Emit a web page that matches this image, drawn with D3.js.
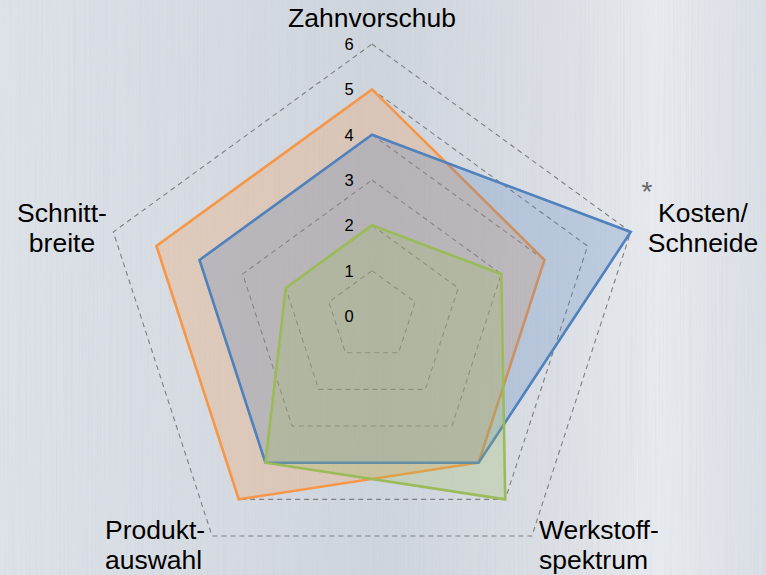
<!DOCTYPE html>
<html>
<head>
<meta charset="utf-8">
<script src="https://cdn.jsdelivr.net/npm/d3@7"></script>
<style>
  html, body { margin: 0; padding: 0; background: #dde1e7; }
  svg { display: block; }
</style>
</head>
<body>
<div class="vizHolder"></div>
<script>
var width = 766,
    height = 575;

// axes, clockwise from top
var axes = ['Zahnvorschub', 'Kosten/Schneide', 'Werkstoffspektrum', 'Produktauswahl', 'Schnittbreite'];
var axisLabels = [['Zahnvorschub'], ['Kosten/', 'Schneide'], ['Werkstoff-', 'spektrum'], ['Produkt-', 'auswahl'], ['Schnitt-', 'breite']];
var ticks = [0, 1, 2, 3, 4, 5, 6];

// series values (same order as axes)
var orangeValues = [5, 4, 4, 5, 5];
var blueValues = [4, 6, 4, 4, 4];
var greenValues = [2, 3, 5, 4, 2];

var seriesColors = ['#f79646', '#4f81bd', '#9bbb59'];

var cx = 372, cy = 316;

var svg = d3.select('.vizHolder')
            .append('svg')
            .attr('width', width)
            .attr('height', height);

var defs = svg.append('defs');

// brushed metal background
var grad = defs.append('linearGradient').attr('id', 'bg').attr('x1', 0).attr('x2', 1).attr('y1', 0).attr('y2', 0);
[[0, '#dde2e8'], [0.25, '#d7dce3'], [0.5, '#cfd5dd'], [0.72, '#dbdfe5'], [0.86, '#e7eaee'], [1, '#dadfe6']].forEach(function(s){
    grad.append('stop').attr('offset', s[0]).attr('stop-color', s[1]);
});

var filt = defs.append('filter').attr('id', 'brush').attr('x', 0).attr('y', 0).attr('width', 1).attr('height', 1);
filt.append('feTurbulence').attr('type', 'fractalNoise').attr('baseFrequency', '0.6 0.004').attr('numOctaves', 2).attr('seed', 3).attr('result', 'n');
filt.append('feColorMatrix').attr('in', 'n').attr('type', 'matrix')
    .attr('values', '0 0 0 0 0.5  0 0 0 0 0.53  0 0 0 0 0.6  0 0 0 -1.6 0.9');

svg.append('rect').attr('width', width).attr('height', height).attr('fill', 'url(#bg)');
svg.append('rect').attr('width', width).attr('height', height).attr('filter', 'url(#brush)').attr('opacity', 0.22);

var rScale = d3.scaleLinear().domain([0, 6]).range([0, 272]);
var angle = d3.scaleLinear().domain([0, axes.length]).range([-Math.PI / 2, 1.5 * Math.PI]);

function pt(i, v) {
    return [cx + rScale(v) * Math.cos(angle(i)), cy + rScale(v) * Math.sin(angle(i))];
}

var line = d3.line();

// grid pentagons
svg.append('g').selectAll('path')
   .data(ticks.filter(function(t){ return t > 0; }))
   .enter().append('path')
   .attr('d', function(t){ return line(axes.map(function(a, i){ return pt(i, t); })) + 'Z'; })
   .attr('fill', 'none')
   .attr('stroke', '#7f7f7f')
   .attr('stroke-width', 1.1)
   .attr('stroke-dasharray', '5,4');

// series
var series = [orangeValues, blueValues, greenValues];
var sg = svg.append('g');
series.forEach(function(vals, k){
    sg.append('path')
      .attr('d', line(vals.map(function(v, i){ return pt(i, v); })) + 'Z')
      .attr('fill', seriesColors[k])
      .attr('fill-opacity', 0.25)
      .attr('stroke', seriesColors[k])
      .attr('stroke-width', 2.6)
      .attr('stroke-linejoin', 'miter');
});

// tick labels
svg.append('g').selectAll('text')
   .data(ticks)
   .enter().append('text')
   .attr('x', cx - 23)
   .attr('y', function(t){ return cy - rScale(t) + 6; })
   .attr('text-anchor', 'middle')
   .attr('font-family', 'Liberation Sans, Arial, sans-serif')
   .attr('font-size', 16.5)
   .attr('fill', '#000')
   .text(function(t){ return t; });

// axis labels
var labelPos = [
    {x: 372, y: 27, anchor: 'middle'},
    {x: 703, y: 222, anchor: 'middle'},
    {x: 539, y: 539, anchor: 'start'},
    {x: 105, y: 539, anchor: 'start'},
    {x: 62, y: 222, anchor: 'middle'}
];
var lg = svg.append('g')
            .attr('font-family', 'Liberation Sans, Arial, sans-serif')
            .attr('font-size', 26.5)
            .attr('fill', '#000');
axisLabels.forEach(function(lines, i){
    var t = lg.append('text')
              .attr('x', labelPos[i].x)
              .attr('y', labelPos[i].y)
              .attr('text-anchor', labelPos[i].anchor);
    lines.forEach(function(s, j){
        t.append('tspan').attr('x', labelPos[i].x).attr('dy', j === 0 ? 0 : 29.5).text(s);
    });
});

// asterisk
svg.append('text')
   .attr('x', 647)
   .attr('y', 201)
   .attr('text-anchor', 'middle')
   .attr('font-family', 'Liberation Sans, Arial, sans-serif')
   .attr('font-size', 28)
   .attr('fill', '#666')
   .text('*');
</script>
</body>
</html>
